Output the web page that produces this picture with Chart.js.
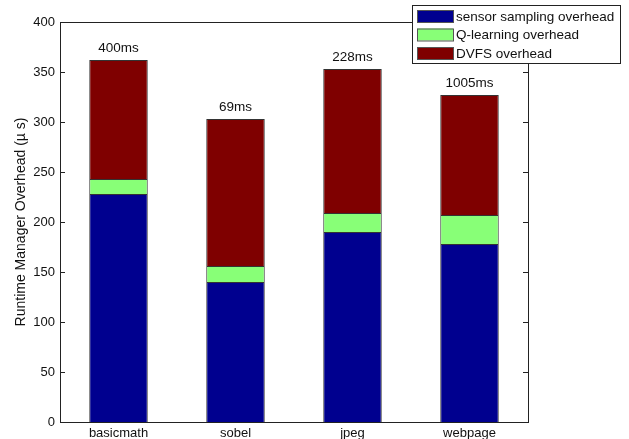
<html lang="en">
  <head>
    <meta charset="UTF-8" />
    <title>Runtime Manager Overhead</title>
    <script src="https://cdn.jsdelivr.net/npm/chart.js"></script>
    <style>
      body { margin: 0; background: #fff; }
      #wrap { width: 629px; height: 439px; position: relative; }
    </style>
  </head>
  <body>
    <div id="wrap">
      <canvas id="overhead"></canvas>
    </div>
  </body>
  <script>
    const benchmarks = ["basicmath", "sobel", "jpeg", "webpage"];
    const sensorSampling = [228, 140, 190, 178];
    const qLearning = [15, 16, 19, 29];
    const dvfs = [119, 147, 144, 120];
    const execTimes = ["400ms", "69ms", "228ms", "1005ms"];
    const yTicks = [0, 50, 100, 150, 200, 250, 300, 350, 400];

    const FONT = "'Liberation Sans', Arial, sans-serif";

    // box around the plot, inward ticks, labels above the bars, legend
    const matlabLook = {
      id: "matlabLook",
      afterDatasetsDraw(chart) {
        const ctx = chart.ctx;
        const a = chart.chartArea;
        const y = chart.scales.y;
        ctx.save();
        ctx.strokeStyle = "#222";
        ctx.lineWidth = 1;
        ctx.strokeRect(a.left + 0.5, a.top + 0.5, a.right - a.left, a.bottom - a.top);
        yTicks.forEach((t) => {
          const py = Math.round(y.getPixelForValue(t)) + 0.5;
          ctx.beginPath();
          ctx.moveTo(a.left, py);
          ctx.lineTo(a.left + 5, py);
          ctx.moveTo(a.right, py);
          ctx.lineTo(a.right - 5, py);
          ctx.stroke();
        });

        // exec time labels on top of each stack
        ctx.fillStyle = "#111";
        ctx.font = "13.5px " + FONT;
        ctx.textAlign = "center";
        ctx.textBaseline = "bottom";
        const last = chart.getDatasetMeta(2);
        last.data.forEach((bar, i) => {
          ctx.fillText(execTimes[i], bar.x, bar.y - 5);
        });

        // legend box
        const lx = 412, ly = 5, lw = 208, lh = 58;
        ctx.fillStyle = "#fff";
        ctx.fillRect(lx, ly, lw, lh);
        ctx.strokeStyle = "#222";
        ctx.strokeRect(lx + 0.5, ly + 0.5, lw, lh);
        ctx.textAlign = "left";
        ctx.textBaseline = "middle";
        chart.data.datasets.forEach((ds, i) => {
          const ry = ly + 11 + i * 18.5;
          ctx.fillStyle = ds.backgroundColor;
          ctx.fillRect(lx + 5, ry - 6, 36, 12);
          ctx.strokeStyle = "#555";
          ctx.strokeRect(lx + 5.5, ry - 5.5, 36, 12);
          ctx.fillStyle = "#111";
          ctx.fillText(ds.label, lx + 44, ry + 1);
        });
        ctx.restore();
      },
    };

    new Chart(document.getElementById("overhead"), {
      type: "bar",
      data: {
        labels: benchmarks,
        datasets: [
          {
            label: "sensor sampling overhead",
            data: sensorSampling,
            backgroundColor: "#00008f",
            borderColor: "#333",
            borderWidth: 1,
          },
          {
            label: "Q-learning overhead",
            data: qLearning,
            backgroundColor: "#88ff77",
            borderColor: "#333",
            borderWidth: 1,
          },
          {
            label: "DVFS overhead",
            data: dvfs,
            backgroundColor: "#7f0000",
            borderColor: "#333",
            borderWidth: 1,
          },
        ],
      },
      options: {
        responsive: true,
        maintainAspectRatio: false,
        animation: false,
        categoryPercentage: 1,
        barPercentage: 0.5,
        layout: { padding: { left: 0, right: 101, top: 22, bottom: 0 } },
        plugins: {
          legend: { display: false },
          tooltip: { enabled: false },
        },
        scales: {
          x: {
            stacked: true,
            grid: { display: false, drawTicks: false },
            border: { display: false },
            ticks: { color: "#111", font: { family: FONT, size: 13 }, padding: 4 },
            afterFit: (scale) => { scale.height = 17; },
          },
          y: {
            stacked: true,
            min: 0,
            max: 400,
            afterBuildTicks: (scale) => { scale.ticks = yTicks.map((v) => ({ value: v })); },
            grid: { display: false, drawTicks: false },
            border: { display: false },
            ticks: { color: "#111", font: { family: FONT, size: 13 }, padding: 5 },
            title: {
              display: true,
              text: "Runtime Manager Overhead (\u00b5 s)",
              color: "#111",
              font: { family: FONT, size: 14 },
              padding: { top: 13, bottom: 0 },
            },
            afterFit: (scale) => { scale.width = 60; },
          },
        },
      },
      plugins: [matlabLook],
    });
  </script>
</html>
